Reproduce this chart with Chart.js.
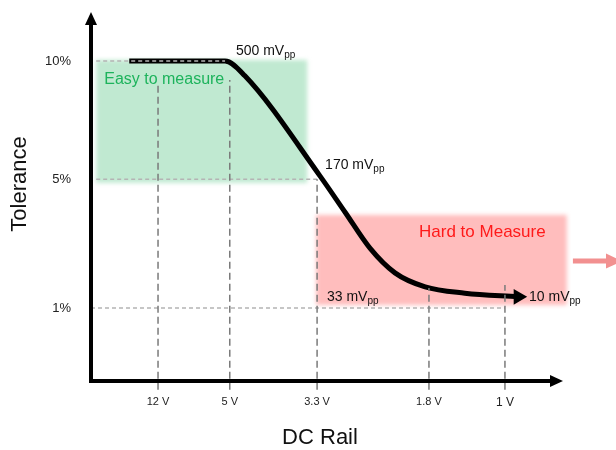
<!DOCTYPE html>
<html>
<head>
<meta charset="utf-8">
<script src="https://cdn.jsdelivr.net/npm/chart.js@4.4.1/dist/chart.umd.min.js"></script>
<style>
  html, body { margin: 0; padding: 0; background: #fff; }
</style>
</head>
<body>
<canvas id="chart" width="616" height="450"></canvas>
<script>
// axis ticks (positions are in the chart's own 0..10 units)
const railLabels = ['12 V', '5 V', '3.3 V', '1.8 V', '1 V'];
const railAt = [1.42, 2.94, 4.79, 7.16, 8.77];
const tolLabels = ['10%', '5%', '1%'];
const tolAt = [8.67, 5.47, 1.98];

// ripple curve
const curveX = [0.81, 2.84, 3.26, 4.85, 5.38, 5.91, 6.44, 7.08, 7.92, 9.05];
const curveY = [8.67, 8.67, 8.27, 5.56, 4.58, 3.60, 2.93, 2.55, 2.38, 2.28];

// dashed guides
const railGuideTop = [8.02, 8.16, 5.47, 2.52, 2.60];
const railGuideBottom = -0.24;
const tolGuideFrom = [0.11, 0.11, 0];
const tolGuideTo = [2.84, 4.79, 8.77];

// ripple notes
const rippleText = ['500 mV', '170 mV', '33 mV', '10 mV'];
const rippleX = [3.07, 4.96, 5.00, 9.28];
const rippleY = [8.83, 5.75, 2.17, 2.17];

// zones
const easyZone = { x: [0.11, 4.58], y: [5.37, 8.70] };
const hardZone = { x: [4.77, 10.08], y: [2.06, 4.50] };

const FONT = '"Liberation Sans", Arial, Helvetica, sans-serif';

const guideSets = [];
railAt.forEach((x, i) => {
  guideSets.push({
    data: [{ x: x, y: railGuideBottom }, { x: x, y: railGuideTop[i] }],
    borderColor: '#7a7a7a', borderWidth: 1.5, borderDash: [7, 4],
    pointRadius: 0, showLine: true, clip: false
  });
});
tolAt.forEach((y, i) => {
  guideSets.push({
    data: [{ x: tolGuideFrom[i], y: y }, { x: tolGuideTo[i], y: y }],
    borderColor: '#b4b4b4', borderWidth: 1.5, borderDash: [4, 3],
    pointRadius: 0, showLine: true, clip: false
  });
});

const curve = {
  data: curveX.map((x, i) => ({ x: x, y: curveY[i] })),
  borderColor: '#000', borderWidth: 5, showLine: true,
  cubicInterpolationMode: 'monotone', clip: false,
  pointRadius: curveX.map((_, i) => i === curveX.length - 1 ? 9 : 0),
  pointStyle: 'triangle', pointRotation: 90,
  pointBackgroundColor: '#000', pointBorderWidth: 0
};

function toPx(chart, x, y) {
  return [chart.scales.x.getPixelForValue(x), chart.scales.y.getPixelForValue(y)];
}

function softRect(ctx, chart, zone, color) {
  const [x0, y0] = toPx(chart, zone.x[0], zone.y[1]);
  const [x1, y1] = toPx(chart, zone.x[1], zone.y[0]);
  ctx.save();
  ctx.filter = 'blur(2px)';
  ctx.fillStyle = color;
  ctx.fillRect(x0, y0, x1 - x0, y1 - y0);
  ctx.restore();
}

function arrowHead(ctx, tipX, tipY, dir, len, half) {
  ctx.beginPath();
  if (dir === 'up') {
    ctx.moveTo(tipX, tipY);
    ctx.lineTo(tipX - half, tipY + len);
    ctx.lineTo(tipX + half, tipY + len);
  } else {
    ctx.moveTo(tipX, tipY);
    ctx.lineTo(tipX - len, tipY - half);
    ctx.lineTo(tipX - len, tipY + half);
  }
  ctx.closePath();
  ctx.fill();
}

const decor = {
  id: 'decor',
  beforeDatasetsDraw(chart) {
    const ctx = chart.ctx;
    softRect(ctx, chart, easyZone, '#c0e9d1');
    softRect(ctx, chart, hardZone, '#ffbdbd');
  },
  afterDatasetsDraw(chart) {
    const ctx = chart.ctx;
    const { left, right, top, bottom } = chart.chartArea;
    ctx.save();
    // axes with arrows
    ctx.strokeStyle = '#000';
    ctx.fillStyle = '#000';
    ctx.lineWidth = 4;
    ctx.beginPath();
    ctx.moveTo(left, bottom + 2);
    ctx.lineTo(left, top + 10);
    ctx.moveTo(left - 2, bottom);
    ctx.lineTo(right - 10, bottom);
    ctx.stroke();
    arrowHead(ctx, left, top, 'up', 13, 6);
    arrowHead(ctx, right, bottom, 'right', 13, 6);

    // salmon arrow to the right of the hard zone
    const [ax0, ay] = toPx(chart, 10.21, 3.25);
    const [ax1] = toPx(chart, 11.25, 3.25);
    ctx.strokeStyle = '#f29090';
    ctx.fillStyle = '#f29090';
    ctx.lineWidth = 5;
    ctx.beginPath();
    ctx.moveTo(ax0, ay);
    ctx.lineTo(ax1 - 14, ay);
    ctx.stroke();
    arrowHead(ctx, ax1, ay, 'right', 16, 7.5);

    // zone labels
    ctx.textBaseline = 'alphabetic';
    ctx.textAlign = 'left';
    ctx.fillStyle = '#1db35c';
    ctx.font = '16px ' + FONT;
    let p = toPx(chart, 0.28, 8.05);
    ctx.fillText('Easy to measure', p[0], p[1]);
    ctx.fillStyle = '#ff1a1a';
    ctx.font = '17px ' + FONT;
    p = toPx(chart, 6.95, 3.90);
    ctx.fillText('Hard to Measure', p[0], p[1]);

    // ripple notes with subscript
    ctx.fillStyle = '#111';
    rippleText.forEach((t, i) => {
      const [x, y] = toPx(chart, rippleX[i], rippleY[i]);
      ctx.font = '14px ' + FONT;
      ctx.fillText(t, x, y);
      const w = ctx.measureText(t).width;
      ctx.font = '10px ' + FONT;
      ctx.fillText('pp', x + w, y + 3);
    });

    // axis titles
    ctx.fillStyle = '#111';
    ctx.font = '22px ' + FONT;
    ctx.textAlign = 'center';
    ctx.textBaseline = 'middle';
    ctx.fillText('DC Rail', 320, 438);
    ctx.translate(20, 184);
    ctx.rotate(-Math.PI / 2);
    ctx.fillText('Tolerance', 0, 0);
    ctx.restore();
  }
};

new Chart(document.getElementById('chart'), {
  type: 'scatter',
  data: { datasets: guideSets.concat([curve]) },
  plugins: [decor],
  options: {
    responsive: false,
    animation: false,
    events: [],
    layout: { padding: { top: 12, right: 53, left: 0, bottom: 0 } },
    plugins: { legend: { display: false }, tooltip: { enabled: false } },
    scales: {
      x: {
        type: 'linear', min: 0, max: 10,
        grid: { display: false, drawTicks: false },
        border: { display: false },
        afterFit: s => { s.height = 69; s.paddingLeft = 0; s.paddingRight = 0; },
        afterBuildTicks: s => { s.ticks = railAt.map(v => ({ value: v })); },
        ticks: {
          autoSkip: false, maxRotation: 0, padding: 14, color: '#222',
          font: c => ({ family: FONT, size: c.index === 4 ? 12 : 11 }),
          callback: (v, i) => railLabels[i]
        }
      },
      y: {
        type: 'linear', min: 0, max: 10,
        grid: { display: false, drawTicks: false },
        border: { display: false },
        afterFit: s => { s.width = 91; s.paddingTop = 0; s.paddingBottom = 0; },
        afterBuildTicks: s => { s.ticks = tolAt.map(v => ({ value: v })); },
        ticks: {
          autoSkip: false, padding: 20, color: '#222',
          font: { family: FONT, size: 13 },
          callback: (v, i) => tolLabels[i]
        }
      }
    }
  }
});
</script>
</body>
</html>
